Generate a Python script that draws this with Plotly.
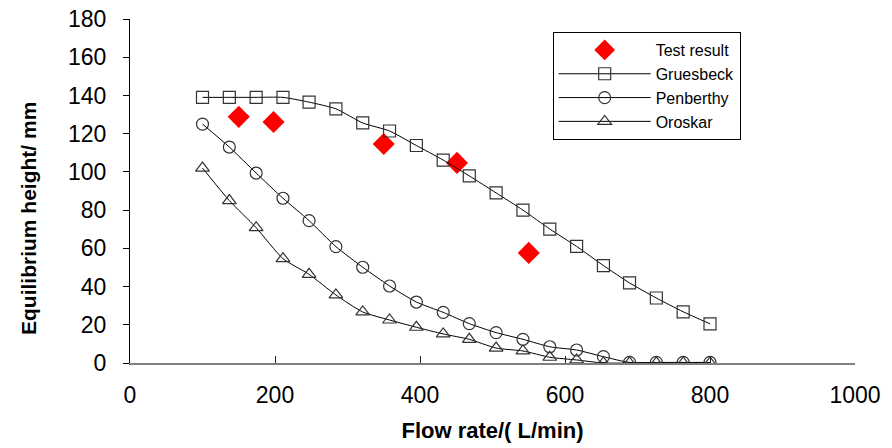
import plotly.graph_objects as go

flow = [100, 137, 174, 211, 247, 284, 321, 358, 395, 432,
        468, 505, 542, 579, 616, 653, 689, 726, 763, 800]
gruesbeck = [139, 139, 139, 139, 136.5, 133, 125.6, 121.4, 113.8, 106.2,
             97.9, 89, 80, 70.1, 61, 51, 41.9, 34, 26.8, 20.5]
penberthy = [125, 113, 99.4, 86.2, 74.5, 60.9, 50.1, 40.3, 31.9, 26.5,
             20.6, 15.9, 12.4, 8.5, 6.8, 3.3, 0.3, 0.3, 0.3, 0.3]
oroskar = [102, 85, 70.8, 54.6, 46.4, 35.6, 26.7, 22.5, 18.7, 15.2,
           12.4, 7.8, 6.3, 3.0, 1.6, 0, 0, 0, 0, 0]

test_flow = [150, 198, 350, 451, 550]
test_height = [128.8, 126.1, 114.6, 104.7, 57.6]

fig = go.Figure()
fig.add_trace(go.Scatter(
    x=test_flow, y=test_height, mode="markers", name="Test result",
    legendgroup="a",
    marker=dict(symbol="diamond", size=17, color="#ff0000", line=dict(width=0))))
line_style = dict(color="black", width=1, shape="spline", smoothing=0.6)
for name, ys, sym, grp in [("Gruesbeck", gruesbeck, "square-open", "b"),
                           ("Penberthy", penberthy, "circle-open", "c"),
                           ("Oroskar", oroskar, "triangle-up-open", "d")]:
    fig.add_trace(go.Scatter(
        x=flow, y=ys, mode="lines+markers", name=name, legendgroup=grp,
        line=line_style,
        marker=dict(symbol=sym, size=12, color="#333333",
                    line=dict(width=1.2, color="#333333"))))

fig.update_layout(
    width=892, height=448,
    margin=dict(l=130, r=37, t=19, b=85),
    plot_bgcolor="white", paper_bgcolor="white",
    font=dict(family="Liberation Sans, Arial", color="black"),
    showlegend=True,
    legend=dict(x=0.583, y=0.962, xanchor="left", yanchor="top",
                bordercolor="black", borderwidth=1, bgcolor="white",
                font=dict(size=16), tracegroupgap=0, itemwidth=92),
    xaxis=dict(range=[0, 1000], tickvals=[0, 200, 400, 600, 800, 1000],
               automargin=False,
               showline=True, linecolor="#808080", linewidth=2,
               ticks="inside", ticklen=7, tickcolor="#222222", tickwidth=1,
               showgrid=False, zeroline=False,
               tickfont=dict(size=23), ticklabelstandoff=10,
               title=dict(text="<b>Flow rate/( L/min)</b>",
                          font=dict(size=22), standoff=16)),
    yaxis=dict(range=[0, 180], tickvals=list(range(0, 181, 20)),
               automargin=False,
               showline=True, linecolor="black", linewidth=1,
               ticks="outside", ticklen=6, tickcolor="black",
               showgrid=False, zeroline=False,
               tickfont=dict(size=23), ticklabelstandoff=12),
    annotations=[dict(text="<b>Equilibrium height/ mm</b>", textangle=-90,
                      xref="paper", yref="paper", x=-0.1407, y=0.4215,
                      xanchor="center", yanchor="middle", showarrow=False,
                      font=dict(size=21))],
)

fig.write_html("out.html")
